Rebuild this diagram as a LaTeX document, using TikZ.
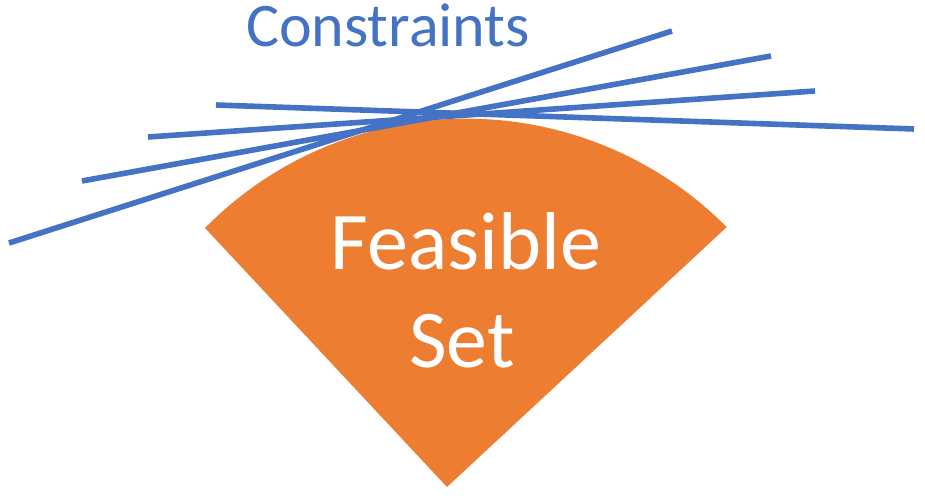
\documentclass[tikz,border=0pt]{standalone}
\usepackage{fontspec}
\setmainfont{Carlito}
\definecolor{cblue}{HTML}{4472C4}
\definecolor{corange}{HTML}{ED7D31}

\begin{document}
\begin{tikzpicture}[x=0.75pt, y=-0.75pt,
    constraint/.style={cblue, line width=4.2pt},
    bigtext/.style={inner sep=0pt, anchor=base}]
            \useasboundingbox (0,0) rectangle (925,502);

            % Feasible set (pie slice)
            \fill[corange] (447,487) -- (205,228)
                arc[start angle=135.4, end angle=44.8, radius=275.25pt] -- cycle;
            \node[bigtext, white, font=\fontsize{61.5}{74}\selectfont] (feasible) at (466,270) {Feasible};
            \node[bigtext, white, font=\fontsize{61.5}{74}\selectfont] (set) at (462,368) {Set};

            % Constraint lines touching the top
            \draw[constraint] (9,243) -- (672,31);
            \draw[constraint] (82,181) -- (771,56);
            \draw[constraint] (148,137) -- (815,91);
            \draw[constraint] (216,105) -- (914,129);
            \node[bigtext, cblue, font=\fontsize{46.5}{56}\selectfont] (constraints) at (388,47) {Constraints};
        \end{tikzpicture}
\end{document}
